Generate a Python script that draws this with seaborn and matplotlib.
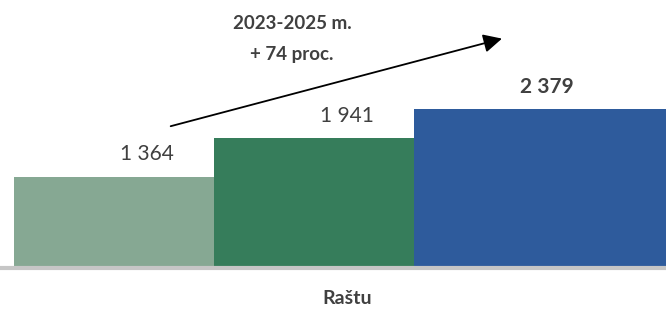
import pandas as pd
import matplotlib
matplotlib.use("Agg")
import matplotlib.pyplot as plt
import seaborn as sns

category = ["Raštu"]
years = ["2023", "2024", "2025"]
values = [1364, 1941, 2379]
labels = ["1 364", "1 941", "2 379"]
colors = ["#86A893", "#367D5B", "#2E5B9C"]
note_lines = ["2023-2025 m.", "+ 74 proc."]

df = pd.DataFrame({"cat": category * len(years), "year": years, "value": values})

sns.set_style("white")
plt.rcParams["font.family"] = ["Lato", "DejaVu Sans"]

fig = plt.figure(figsize=(6.66, 3.12), dpi=100)
ax = fig.add_axes([0, 44 / 312, 1, 268 / 312])
sns.barplot(data=df, x="cat", y="value", hue="year", palette=colors,
            width=0.9, saturation=1, legend=False, linewidth=0, ax=ax)

# overlapping bars, like the original chart
for p in ax.patches:
    c = p.get_x() + p.get_width() / 2
    p.set_width(0.4)
    p.set_x(c - 0.2)

for i, cont in enumerate(ax.containers):
    ax.bar_label(cont, labels=[labels[i]], padding=9, fontsize=15,
                 color="#404040", fontweight="bold" if i == 2 else "normal")

ax.set_xlim(-0.521, 0.478)
ax.set_ylim(0, 4010)
ax.set_yticks([])
ax.set_xlabel("")
ax.set_ylabel("")
sns.despine(ax=ax, left=True, top=True, right=True)
ax.spines["bottom"].set_color("#C6C6C6")
ax.spines["bottom"].set_linewidth(3)
ax.spines["bottom"].set_clip_on(False)
ax.tick_params(axis="x", length=0, pad=16, labelsize=14, labelcolor="#404040")
for t in ax.get_xticklabels():
    t.set_fontweight("bold")

ax.annotate("", xy=(0.236, 3443), xytext=(-0.269, 2111),
            arrowprops=dict(arrowstyle="-|>", color="black", lw=1.3,
                            mutation_scale=28), annotation_clip=False)
ax.text(-0.083, 3660, note_lines[0], ha="center", va="center", fontsize=13.5,
        fontweight="bold", color="#404040")
ax.text(-0.083, 3200, note_lines[1], ha="center", va="center", fontsize=13.5,
        fontweight="bold", color="#404040")

fig.savefig("out.png", dpi=100)
